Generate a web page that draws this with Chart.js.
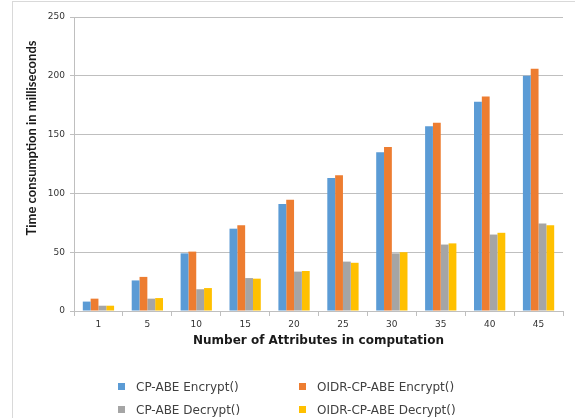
<!DOCTYPE html>
<html>
<head>
<meta charset="utf-8">
<script src="https://cdn.jsdelivr.net/npm/chart.js@4"></script>
<style>
  html, body { margin: 0; padding: 0; background: #fff; }
  #wrap { position: relative; width: 575px; height: 418px; overflow: hidden; }
  #frame { position: absolute; left: 12px; top: 1px; width: 600px; height: 500px;
           border-left: 1px solid #d9d9d9; border-top: 1px solid #d9d9d9; }
  #box { position: absolute; left: 0; top: 0; width: 575px; height: 360px; }
  #legend { position: absolute; left: 0; top: 0; width: 575px; height: 418px;
            font-family: "DejaVu Sans", sans-serif; font-size: 12px; color: #404040; }
  .item { position: absolute; white-space: nowrap; line-height: 14px; }
  .sw { display: inline-block; width: 7px; height: 7px; margin-right: 11px; vertical-align: 1px; }
</style>
</head>
<body>
<div id="wrap">
  <div id="frame"></div>
  <div id="box"><canvas id="chart"></canvas></div>
  <div id="legend"></div>
</div>
<script>
// categories: number of attributes
var attributes = ['1', '5', '10', '15', '20', '25', '30', '35', '40', '45'];

// time in milliseconds
var cpEncrypt = [8, 26, 49, 70, 91, 113, 135, 157, 178, 200];
var oidrEncrypt = [10.5, 29, 50.5, 73, 94.5, 115.5, 139.5, 160, 182.5, 206];
var cpDecrypt = [4.5, 10.5, 18.5, 28, 33.5, 42, 49, 56.5, 65, 74.5];
var oidrDecrypt = [4.5, 11, 19.5, 27.5, 34, 41, 50, 57.5, 66.5, 73];

var seriesNames = ['CP-ABE Encrypt()', 'OIDR-CP-ABE Encrypt()', 'CP-ABE Decrypt()', 'OIDR-CP-ABE Decrypt()'];
var seriesColors = ['#5B9BD5', '#ED7D31', '#A5A5A5', '#FFC000'];
var allSeries = [cpEncrypt, oidrEncrypt, cpDecrypt, oidrDecrypt];

var yMax = 250;
var yStep = 50;
var yTitle = 'Time consumption in milliseconds';

var datasets = allSeries.map(function(vals, i){
	return {
		label: seriesNames[i],
		data: vals,
		backgroundColor: seriesColors[i],
		borderWidth: 0,
		barPercentage: 1,
		categoryPercentage: 0.64
	};
});

// y title sits a bit above the middle of the axis in the original
var yTitlePlugin = {
	id: 'yTitle',
	afterDraw: function(chart){
		var c = chart.ctx;
		var area = chart.chartArea;
		c.save();
		c.translate(32, (area.top + area.bottom) / 2 - 26);
		c.rotate(-Math.PI / 2);
		c.font = 'bold 13px Lato';
		c.fillStyle = '#1a1a1a';
		c.textAlign = 'center';
		c.textBaseline = 'middle';
		c.fillText(yTitle, 0, 0);
		c.restore();
	}
};

var ctx = document.getElementById('chart').getContext('2d');
var myChart = new Chart(ctx, {
	type: 'bar',
	data: {
		labels: attributes,
		datasets: datasets
	},
	plugins: [yTitlePlugin],
	options: {
		responsive: true,
		maintainAspectRatio: false,
		animation: false,
		layout: { padding: { left: 12, right: 12, top: 17, bottom: 9 } },
		plugins: {
			legend: { display: false },
			tooltip: { enabled: false }
		},
		scales: {
			x: {
				grid: { display: true, drawOnChartArea: false, offset: true, tickLength: 5, color: '#bfbfbf' },
				border: { color: '#bfbfbf' },
				ticks: { padding: 3, color: '#333', font: { family: 'DejaVu Sans', size: 9 } },
				title: {
					display: true,
					text: 'Number of Attributes in computation',
					color: '#1a1a1a',
					font: { family: 'DejaVu Sans', size: 12, weight: 'bold' },
					padding: { top: 0, bottom: 3 }
				},
				afterFit: function(scale){ scale.height = 40; }
			},
			y: {
				min: 0,
				max: yMax,
				grid: { color: '#bfbfbf', tickLength: 4 },
				border: { color: '#bfbfbf' },
				ticks: { stepSize: yStep, padding: 5, color: '#333', font: { family: 'DejaVu Sans', size: 9 } },
				afterFit: function(scale){ scale.width = 62; }
			}
		}
	}
});

// two column legend under the chart
var spots = [[118, 380], [299, 380], [118, 403], [299, 403]];
var legend = document.getElementById('legend');
myChart.data.datasets.forEach(function(ds, i){
	var d = document.createElement('div');
	d.className = 'item';
	d.style.left = spots[i][0] + 'px';
	d.style.top = spots[i][1] + 'px';
	d.innerHTML = '<span class="sw" style="background:' + ds.backgroundColor + '"></span>' + ds.label;
	legend.appendChild(d);
});
</script>
</body>
</html>
